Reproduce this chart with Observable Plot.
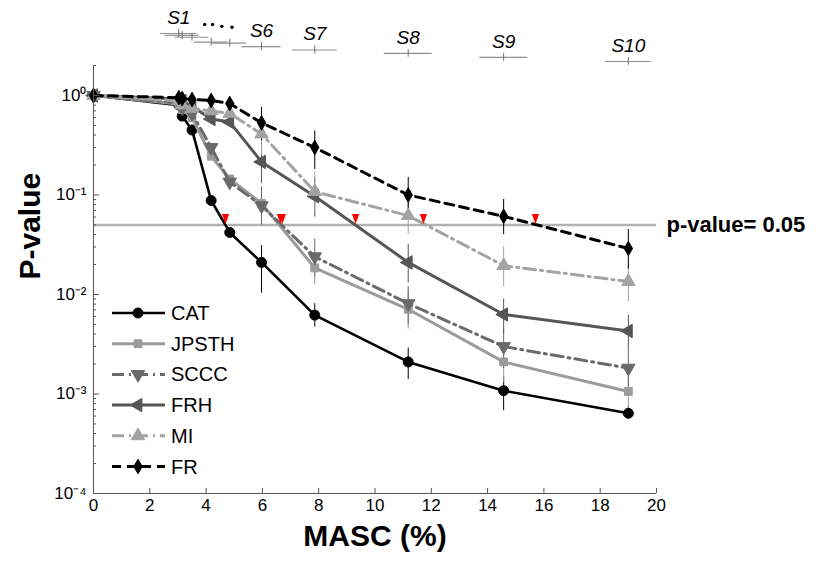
<!DOCTYPE html>
<html><head><meta charset="utf-8">
<script src="https://cdn.jsdelivr.net/npm/d3@7"></script>
<script src="https://cdn.jsdelivr.net/npm/@observablehq/plot@0.6"></script>
<style>
body{margin:0;background:#fff;font-family:"Liberation Sans",Arial,Helvetica,sans-serif;}
#wrap{position:relative;width:820px;height:561px;overflow:hidden;}
#wrap svg{display:block;overflow:visible;}
#legend{position:absolute;left:0;top:0;}
</style></head><body><div id="wrap"></div>
<script>
// ---------- data ----------
const masc = [0, 3.03, 3.15, 3.5, 4.18, 4.84, 5.97, 7.86, 11.18, 14.57, 19.0];

const catP   = [1.0, 0.80, 0.62, 0.45, 0.088, 0.042, 0.021, 0.0062, 0.0021, 0.00108, 0.00064];
const jpsthP = [1.0, 0.82, 0.72, 0.60, 0.245, 0.145, 0.082, 0.0185, 0.0071, 0.0021, 0.00106];
const scccP  = [1.0, 0.84, 0.75, 0.66, 0.30, 0.135, 0.078, 0.024, 0.0081, 0.0030, 0.00182];
const frhP   = [1.0, 0.92, 0.88, 0.78, 0.58, 0.54, 0.215, 0.097, 0.021, 0.0063, 0.0043];
const miP    = [1.0, 0.88, 0.80, 0.74, 0.70, 0.66, 0.41, 0.108, 0.062, 0.0195, 0.0135];
const frP    = [1.0, 0.95, 0.93, 0.91, 0.89, 0.83, 0.53, 0.30, 0.10, 0.061, 0.029];

const catLo   = [null,null,null,null,null,null,0.0103,0.0047,0.0014,0.00068,0.00056];
const catHi   = [null,null,null,null,null,null,0.031,0.0081,0.0029,0.0015,0.00074];
const jpsthLo = [null,null,null,null,null,null,0.05,0.0125,0.0045,0.0013,0.0006];
const jpsthHi = [null,null,null,null,null,null,0.12,0.026,0.011,0.0032,0.0018];
const scccLo  = [null,null,null,null,null,null,0.05,0.015,0.005,0.0018,0.0011];
const scccHi  = [null,null,null,null,null,null,0.12,0.036,0.012,0.0045,0.0028];
const frhLo   = [null,null,null,null,null,null,0.13,0.06,0.013,0.004,0.0028];
const frhHi   = [null,null,null,null,null,null,0.34,0.15,0.032,0.009,0.0062];
const miLo    = [null,null,null,null,null,null,0.25,0.065,0.04,0.012,0.0085];
const miHi    = [null,null,null,null,null,null,0.65,0.17,0.095,0.03,0.02];
const frLo    = [null,null,null,null,null,null,0.35,0.18,0.065,0.04,0.018];
const frHi    = [null,null,null,null,null,null,0.76,0.44,0.15,0.09,0.045];

const seriesNames = ["CAT", "JPSTH", "SCCC", "FRH", "MI", "FR"];

// threshold crossings (red markers)
const crossX = [4.69, 6.64, 6.71, 9.31, 11.72, 15.70];
const threshold = 0.05;
const thresholdLabel = "p-value= 0.05";

// S1..S10 stages shown above the axes
const sLabels = ["S1","S2","S3","S4","S5","S6","S7","S8","S9","S10"];
const sX      = [3.03, 3.15, 3.5, 4.18, 4.84, 5.97, 7.86, 11.18, 14.57, 19.0];
const sHalf   = [0.65, 0.6, 0.6, 0.6, 0.6, 0.7, 0.8, 0.85, 0.85, 0.8];
const sRow    = [1, 1.6, 2.2, 3.8, 4.1, 5.2, 6.3, 7.4, 8.7, 10];
const sShown  = [true,false,false,false,false,true,true,true,true,true];
const ellipsisX   = [3.95, 4.23, 4.56, 4.92];
const ellipsisRow = [-1.9, -1.9, -1.3, -1.0];

const xTicks = [0,2,4,6,8,10,12,14,16,18,20];
const yTicks = [1e-4, 1e-3, 1e-2, 1e-1, 1];
const yMinor = [];
for (const e of [-4,-3,-2,-1,0]) for (const m of [2,3,4,5,6,7,8,9]) { const v = m*Math.pow(10,e); if (v <= 2) yMinor.push(v); }

const xTitle = "MASC (%)";
const yTitle = "P-value";

// ---------- styles ----------
const styles = {
  CAT:   {values: catP,   lo: catLo,   hi: catHi,   color: "#000000", width: 2.6, dash: null,         symbol: "circle",   rotate: 0,   r: 5},
  JPSTH: {values: jpsthP, lo: jpsthLo, hi: jpsthHi, color: "#9b9b9b", width: 3,   dash: null,         symbol: "square",   rotate: 0,   r: 4.4},
  SCCC:  {values: scccP,  lo: scccLo,  hi: scccHi,  color: "#6a6a6a", width: 3,   dash: "12,5,2,5",   symbol: "triangle", rotate: 180, r: 5},
  FRH:   {values: frhP,   lo: frhLo,   hi: frhHi,   color: "#565656", width: 3,   dash: null,         symbol: "triangle", rotate: -90, r: 5},
  MI:    {values: miP,    lo: miLo,    hi: miHi,    color: "#a3a3a3", width: 3,   dash: "12,5,2,5",   symbol: "triangle", rotate: 0,   r: 5},
  FR:    {values: frP,    lo: frLo,    hi: frHi,    color: "#000000", width: 3,   dash: "9,6",        symbol: "diamond",  rotate: 0,   r: 4.4}
};

const tables = seriesNames.map(name => {
  const s = styles[name];
  return {name, s, rows: masc.map((x, i) => ({x, y: s.values[i], lo: s.lo[i], hi: s.hi[i]}))};
});

const font = '"Liberation Sans", Arial, Helvetica, sans-serif';
const sup = {"-":"\u207B","0":"\u2070","1":"\u00B9","2":"\u00B2","3":"\u00B3","4":"\u2074"};
const fmtPow = d => "10" + String(Math.round(Math.log10(d))).split("").map(c => sup[c]).join("");

const redTri = {draw(ctx){ ctx.moveTo(-3.6,-5); ctx.lineTo(3.6,-5); ctx.lineTo(0,5); ctx.closePath(); }};

const W = 820, ML = 93, MR = 164;

// ---------- top strip ----------
const sTable = sLabels.map((label, i) => ({label, x: sX[i], half: sHalf[i], row: sRow[i], shown: sShown[i]}));
const ell = ellipsisX.map((x, i) => ({x, row: ellipsisRow[i]}));

const stripChart = Plot.plot({
  width: W, height: 65, marginLeft: ML, marginRight: MR, marginTop: 0, marginBottom: 0,
  style: {fontFamily: font, background: "transparent", overflow: "visible"},
  x: {domain: [0, 20], axis: null},
  y: {domain: [1, 10], range: [33, 61], axis: null},
  marks: [
    Plot.ruleY(sTable, {y: "row", x1: d => d.x - d.half, x2: d => d.x + d.half, stroke: "#8f8f8f", strokeWidth: 1.2}),
    Plot.ruleX(sTable, {x: "x", y1: d => d.row - 1.25, y2: d => d.row + 1.25, stroke: "#6f6f6f", strokeWidth: 1}),
    Plot.text(sTable.filter(d => d.shown), {x: "x", y: "row", text: "label", dy: -16, fontSize: 19, fontStyle: "italic", fill: "#000"}),
    Plot.dot(ell, {x: "x", y: "row", r: 1.7, fill: "#000", stroke: null})
  ]
});

// ---------- main chart ----------
const marks = [];
marks.push(Plot.ruleY([threshold], {stroke: "#b3b3b3", strokeWidth: 2.5}));
for (const t of tables) {
  marks.push(Plot.ruleX(t.rows.filter(d => d.lo != null), {x: "x", y1: "lo", y2: "hi", stroke: t.s.color, strokeWidth: 1}));
}
for (const t of tables) {
  marks.push(Plot.line(t.rows, {x: "x", y: "y", stroke: t.s.color, strokeWidth: t.s.width, strokeDasharray: t.s.dash}));
  marks.push(Plot.dot(t.rows, {x: "x", y: "y", symbol: t.s.symbol, rotate: t.s.rotate, r: t.s.r, fill: t.s.color, stroke: t.s.color, strokeWidth: 1}));
}
marks.push(Plot.dot(crossX, {x: d => d, y: () => threshold, symbol: redTri, fill: "#ff0000", stroke: null, dy: -6}));
marks.push(Plot.text([thresholdLabel], {frameAnchor: "right", y: () => threshold, text: d => d, textAnchor: "start", dx: 10, fontSize: 22, fontWeight: "bold", fill: "#000"}));
// axes
marks.push(Plot.ruleX([0], {stroke: "#555", strokeWidth: 1}));
marks.push(Plot.ruleY([1e-4], {stroke: "#555", strokeWidth: 1}));
marks.push(Plot.axisX({ticks: xTicks, tickSize: -5, tickFormat: () => "", stroke: "#555", label: null}));
marks.push(Plot.axisX({ticks: xTicks, tickSize: 0, tickPadding: 5, fontSize: 17, fill: "#000", tickFormat: d => String(d), label: null}));
marks.push(Plot.axisY({ticks: yTicks, tickSize: -6, tickFormat: () => "", stroke: "#555", label: null}));
marks.push(Plot.axisY({ticks: yMinor, tickSize: -3, tickFormat: () => "", stroke: "#555", label: null}));
marks.push(Plot.axisY({ticks: yTicks, tickSize: 0, tickPadding: 7, fontSize: 17, fill: "#000", tickFormat: fmtPow, label: null}));
marks.push(Plot.text([xTitle], {frameAnchor: "bottom", text: d => d, dy: 52, fontSize: 30, fontWeight: "bold", fill: "#000"}));
marks.push(Plot.text([yTitle], {frameAnchor: "left", text: d => d, dx: -63, rotate: -90, fontSize: 30, fontWeight: "bold", fill: "#000"}));

const mainChart = Plot.plot({
  width: W, height: 496, marginLeft: ML, marginRight: MR, marginTop: 0, marginBottom: 68,
  style: {fontFamily: font, background: "transparent", overflow: "visible", color: "#000"},
  x: {domain: [0, 20], label: null},
  y: {type: "log", domain: [1e-4, 2], label: null},
  marks
});

const wrap = document.getElementById("wrap");
wrap.appendChild(stripChart);
wrap.appendChild(mainChart);

// ---------- legend ----------
const legY0 = 313, legStep = 30.7;
const legend = d3.select(wrap).append("svg").attr("id", "legend").attr("width", 260).attr("height", 561);
const symType = {circle: d3.symbolCircle, square: d3.symbolSquare, triangle: d3.symbolTriangle, diamond: d3.symbolDiamond};
seriesNames.forEach((name, i) => {
  const s = styles[name];
  const g = legend.append("g").attr("transform", `translate(0,${legY0 + i * legStep})`);
  g.append("line").attr("x1", 112).attr("x2", 165).attr("y1", 0).attr("y2", 0)
    .attr("stroke", s.color).attr("stroke-width", s.width).attr("stroke-dasharray", s.dash);
  g.append("path").attr("d", d3.symbol(symType[s.symbol], Math.PI * s.r * s.r)())
    .attr("transform", `translate(138,0) rotate(${s.rotate})`).attr("fill", s.color).attr("stroke", s.color);
  g.append("text").attr("x", 171).attr("y", 0).attr("dy", "0.35em").attr("font-size", 20)
    .attr("font-family", font).attr("fill", "#000").text(name);
});
</script></body></html>
